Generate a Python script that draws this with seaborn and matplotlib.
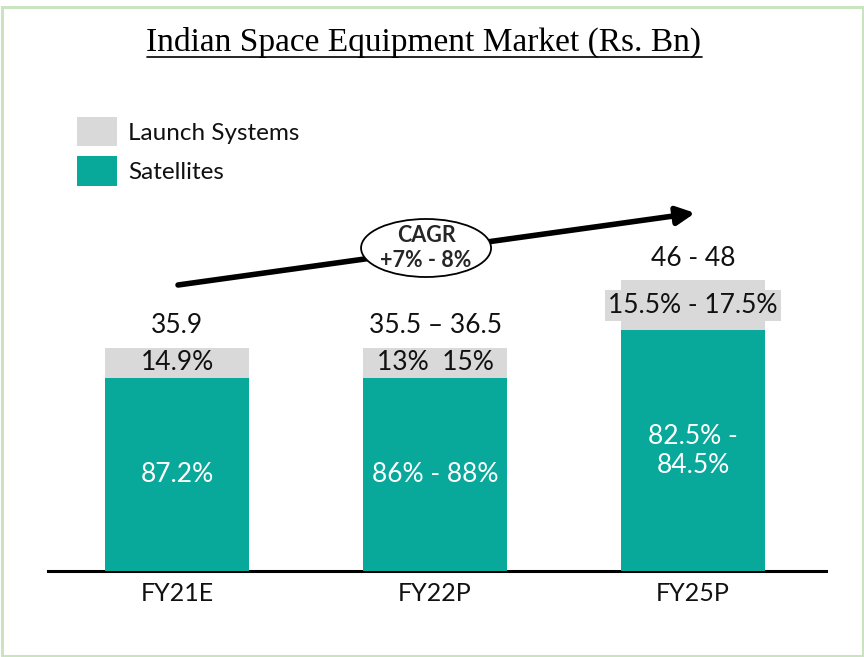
import matplotlib
matplotlib.use("Agg")
import matplotlib.pyplot as plt
from matplotlib.patches import Ellipse, Rectangle, Patch
from matplotlib.lines import Line2D
import seaborn as sns
import pandas as pd

# Market size by year (Rs. Bn)
years = ["FY21E", "FY22P", "FY25P"]
satellites = [31.1, 31.1, 38.8]
launch_systems = [4.8, 4.8, 8.0]
total_labels = ["35.9", "35.5 \u2013 36.5", "46 - 48"]
launch_labels = ["14.9%", "13%  15%", "15.5% - 17.5%"]
satellite_labels = ["87.2%", "86% - 88%", "82.5% -\n84.5%"]

TEAL = "#08A89B"
GREY = "#D9D9D9"

sns.set_theme(style="white")
plt.rcParams["font.family"] = ["Lato", "DejaVu Sans"]

df = pd.DataFrame({
    "year": years,
    "satellites": satellites,
    "total": [s + l for s, l in zip(satellites, launch_systems)],
})

fig = plt.figure(figsize=(8.64, 6.57), dpi=100)
W, H = 864, 657
ax = fig.add_axes([48 / W, 1 - 571 / H, (826 - 48) / W, (571 - 20) / H])

# stacked bars: total in grey, satellites drawn over it in teal
sns.barplot(data=df, x="year", y="total", color=GREY, width=0.56,
            saturation=1, linewidth=0, ax=ax, zorder=2)
sns.barplot(data=df, x="year", y="satellites", color=TEAL, width=0.56,
            saturation=1, linewidth=0, ax=ax, zorder=3)

ax.set_xlim(-0.5, 2.515)
ax.set_ylim(0, (571 - 20) / 6.21)
ax.set_xlabel("")
ax.set_ylabel("")
ax.set_yticks([])
ax.tick_params(axis="x", length=0, pad=8, labelsize=18, labelcolor="#111111")
for side in ["top", "right", "left"]:
    ax.spines[side].set_visible(False)
ax.spines["bottom"].set_color("black")
ax.spines["bottom"].set_linewidth(2.2)
ax.patch.set_alpha(0)

for i, (sat, lau) in enumerate(zip(satellites, launch_systems)):
    tot = sat + lau
    ax.annotate(total_labels[i], (i, tot), xytext=(0, 7), textcoords="offset points",
                ha="center", va="bottom", fontsize=19, color="#111111", zorder=5)
    bbox = None
    if i == 2:
        bbox = dict(boxstyle="square,pad=0.12", fc=GREY, ec="none")
    ax.text(i, sat + lau / 2, launch_labels[i], ha="center", va="center",
            fontsize=19, color="#111111", zorder=5, bbox=bbox)
    ax.text(i, sat / 2, satellite_labels[i], ha="center", va="center",
            fontsize=19, color="white", zorder=5, linespacing=1.2)

# growth arrow with CAGR bubble
def to_data(px, py):
    return ((px - 177) / 258, (571 - py) / 6.21)

ax.annotate("", xy=to_data(695, 213), xytext=to_data(178, 285),
            arrowprops=dict(arrowstyle="-|>,head_length=0.9,head_width=0.45",
                            color="black", lw=4, shrinkA=0, shrinkB=0),
            zorder=6, annotation_clip=False)
cx, cy = to_data(426, 248)
ax.add_patch(Ellipse((cx, cy), 130 / 258, 58 / 6.21, facecolor="white",
                     edgecolor="black", lw=1.3, zorder=7, clip_on=False))
ax.text(cx, cy, "CAGR\n+7% - 8%", ha="center", va="center", fontsize=15.5,
        fontweight="bold", zorder=8, linespacing=1.25)

# legend
handles = [Patch(facecolor=GREY, edgecolor="none", label="Launch Systems"),
           Patch(facecolor=TEAL, edgecolor="none", label="Satellites")]
fig.legend(handles=handles, loc="upper left", bbox_to_anchor=(67 / W, 1 - 107 / H),
           frameon=False, fontsize=17.5, handlelength=1.65, handleheight=1.5,
           handletextpad=0.45, labelspacing=0.4, borderaxespad=0,
           labelcolor="#111111")

# title with underline
title = fig.text(424 / W, 1 - 42 / H, "Indian Space Equipment Market (Rs. Bn)",
                 ha="center", va="center", fontsize=24,
                 family="Liberation Serif", color="black")
fig.canvas.draw()
bb = title.get_window_extent()
uy = bb.y0 + 1
fig.add_artist(Line2D([bb.x0 / W, bb.x1 / W], [uy / H, uy / H],
                      transform=fig.transFigure, color="black", lw=1.2))

# outer frame
fig.add_artist(Rectangle((1.5 / W, 1.5 / H), (W - 3) / W, (H - 8) / H,
                         transform=fig.transFigure, fill=False,
                         edgecolor="#C9E4BE", lw=2.2))

fig.savefig("out.png", dpi=100)
